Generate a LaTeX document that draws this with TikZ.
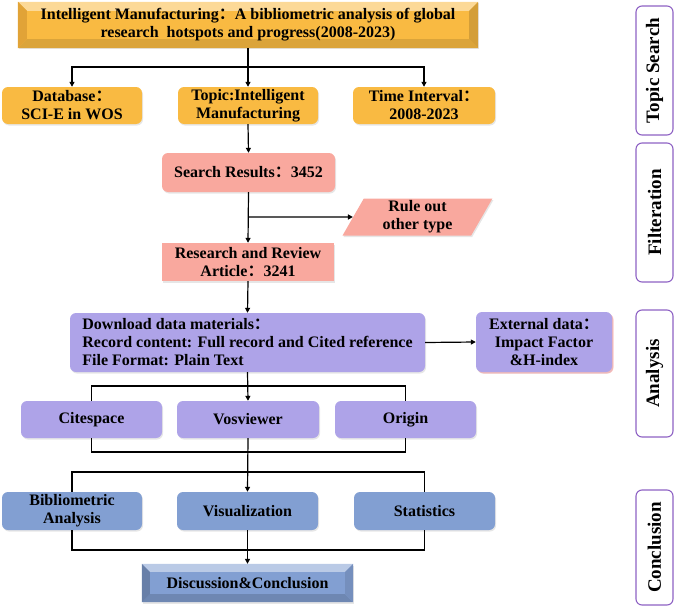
\documentclass[tikz,border=0pt]{standalone}
\usepackage{fontspec}
\setmainfont{Liberation Serif}
\newfontfamily\cjk{Noto Sans CJK SC}[BoldFont={Noto Sans CJK SC Bold}]
\usetikzlibrary{shapes.geometric,arrows.meta,calc,shadows}
\definecolor{gold}{HTML}{F9BA42}
\definecolor{pinkc}{HTML}{F9A89E}
\definecolor{lav}{HTML}{AEA3E8}
\definecolor{bluec}{HTML}{829FD2}
\definecolor{purp}{HTML}{8E62C4}
\newcommand{\fc}{{\cjk ：}}
\begin{document}
\begin{tikzpicture}[x=1pt,y=-1pt,
  font=\bfseries\fontsize{16}{18}\selectfont,
  box/.style={draw=none, align=center, inner sep=1pt,
    drop shadow={opacity=0.2, shadow xshift=1pt, shadow yshift=-1.5pt}},
  rbox/.style={box, rounded corners=6pt},
  side/.style={draw=purp, line width=1.1pt, fill=white, rounded corners=6pt,
    rotate=90, minimum height=37pt, font=\bfseries\fontsize{19}{21}\selectfont},
  conn/.style={line width=1.2pt, draw=black},
  arr/.style={conn, -{Triangle[length=5pt,width=5pt]}},
]
\useasboundingbox (0,0) rectangle (685,610);

% title (bevelled)
\node[box, fill=gold, minimum width=460pt, minimum height=46pt] (title) at (248,25) {};
\fill[gold!55!white] (title.north west) -- (title.north east) -- ($(title.north east)+(-9,9)$) -- ($(title.north west)+(9,9)$) -- cycle;
\fill[gold!88!black] (title.south west) -- (title.south east) -- ($(title.south east)+(-9,-9)$) -- ($(title.south west)+(9,-9)$) -- cycle;
\fill[gold!92!orange!90!black] (title.north west) -- (title.south west) -- ($(title.south west)+(9,-9)$) -- ($(title.north west)+(9,9)$) -- cycle;
\fill[gold!85!black] (title.north east) -- (title.south east) -- ($(title.south east)+(-9,-9)$) -- ($(title.north east)+(-9,9)$) -- cycle;
\node[align=center] (titletext) at (title.center) {Intelligent Manufacturing\fc A bibliometric analysis of global\\research\ \ hotspots and progress(2008-2023)};

% row 1
\node[rbox, fill=gold, minimum width=140pt, minimum height=37pt] (db) at (72,105.5) {Database\fc\\SCI-E in WOS};
\node[rbox, fill=gold, minimum width=140pt, minimum height=37pt] (topic) at (248,105.5) {Topic:Intelligent\\Manufacturing};
\node[rbox, fill=gold, minimum width=142pt, minimum height=37pt] (time) at (424,105.5) {Time Interval\fc\\2008-2023};

% filtration
\node[rbox, fill=pinkc, minimum width=173pt, minimum height=39pt] (sr) at (248.5,172.5) {Search Results\fc 3452};
\node[trapezium, trapezium left angle=67, trapezium right angle=113, trapezium stretches=true,
  fill=pinkc, minimum width=151pt, minimum height=37pt, align=center, inner sep=0pt,
  drop shadow={opacity=0.2, shadow xshift=1pt, shadow yshift=-1.5pt}] (rule) at (417.5,217) {Rule out\\other type};
\node[box, fill=pinkc, minimum width=172pt, minimum height=38pt] (ra) at (248,262) {Research and Review\\Article\fc 3241};

% analysis
\node[rbox, fill=lav, minimum width=355pt, minimum height=59pt, align=left] (dl) at (247.5,342.5) {Download data materials\fc\\Record content: Full record and Cited reference\\File Format: Plain Text};
\node[rbox, fill=lav, minimum width=136pt, minimum height=60pt,
  drop shadow={opacity=0.35, color=red!60, shadow xshift=1.5pt, shadow yshift=-1.5pt}] (ext) at (544,342) {External data\fc\\Impact Factor\\\&H-index};
\node[rbox, fill=lav, minimum width=141pt, minimum height=37pt] (cite) at (91.5,419.5) {Citespace};
\node[rbox, fill=lav, minimum width=142pt, minimum height=37pt] (vos) at (248,419.5) {Vosviewer};
\node[rbox, fill=lav, minimum width=141pt, minimum height=37pt] (orig) at (405.5,419.5) {Origin};

% conclusion
\node[rbox, fill=bluec, minimum width=140pt, minimum height=38pt] (bib) at (72,511) {Bibliometric\\Analysis};
\node[rbox, fill=bluec, minimum width=141pt, minimum height=38pt] (vis) at (247.5,511) {Visualization};
\node[rbox, fill=bluec, minimum width=141pt, minimum height=38pt] (stat) at (424.5,511) {Statistics};

\node[box, fill=bluec, minimum width=211pt, minimum height=38pt] (disc) at (247.5,583) {};
\fill[bluec!55!white] (disc.north west) -- (disc.north east) -- ($(disc.north east)+(-8,8)$) -- ($(disc.north west)+(8,8)$) -- cycle;
\fill[bluec!85!black] (disc.south west) -- (disc.south east) -- ($(disc.south east)+(-8,-8)$) -- ($(disc.south west)+(8,-8)$) -- cycle;
\fill[bluec!80!black] (disc.north west) -- (disc.south west) -- ($(disc.south west)+(8,-8)$) -- ($(disc.north west)+(8,8)$) -- cycle;
\fill[bluec!90!black] (disc.north east) -- (disc.south east) -- ($(disc.south east)+(-8,-8)$) -- ($(disc.north east)+(-8,8)$) -- cycle;
\node (disctext) at (disc.center) {Discussion\&Conclusion};

% side labels
\node[side, minimum width=129pt] (s1) at (654.5,70.5) {Topic Search};
\node[side, minimum width=139pt] (s2) at (654.5,212.5) {Filteration};
\node[side, minimum width=127pt] (s3) at (654.5,373.5) {Analysis};
\node[side, minimum width=115pt] (s4) at (654.5,547.5) {Conclusion};

% connectors
\coordinate (j1) at (248,67);
\draw[arr] (title.south) -- (topic.north);
\draw[arr] (j1) -| (db.north);
\draw[arr] (j1) -| (time.north);
\draw[arr] (topic.south) -- (sr.north);
\draw[arr] (sr.south) -- (ra.north);
\coordinate (j2) at (248,217);
\draw[arr] (j2) -- (rule.west);
\draw[arr] (ra.south) -- (dl.north);
\draw[arr] (dl.east) -- (ext.west);
\coordinate (j3) at (248,386);
\draw[arr] (dl.south) -- (vos.north);
\draw[conn] (cite.north) |- (j3) -| (orig.north);
\coordinate (j4) at (248,452);
\draw[conn] (cite.south) |- (j4) -| (orig.south);
\draw[arr] (vos.south) -- (vis.north);
\coordinate (j5) at (248,472);
\draw[conn] (bib.north) |- (j5) -| (stat.north);
\coordinate (j6) at (248,550);
\draw[conn] (bib.south) |- (j6) -| (stat.south);
\draw[arr] (vis.south) -- (disc.north);
\end{tikzpicture}
\end{document}
